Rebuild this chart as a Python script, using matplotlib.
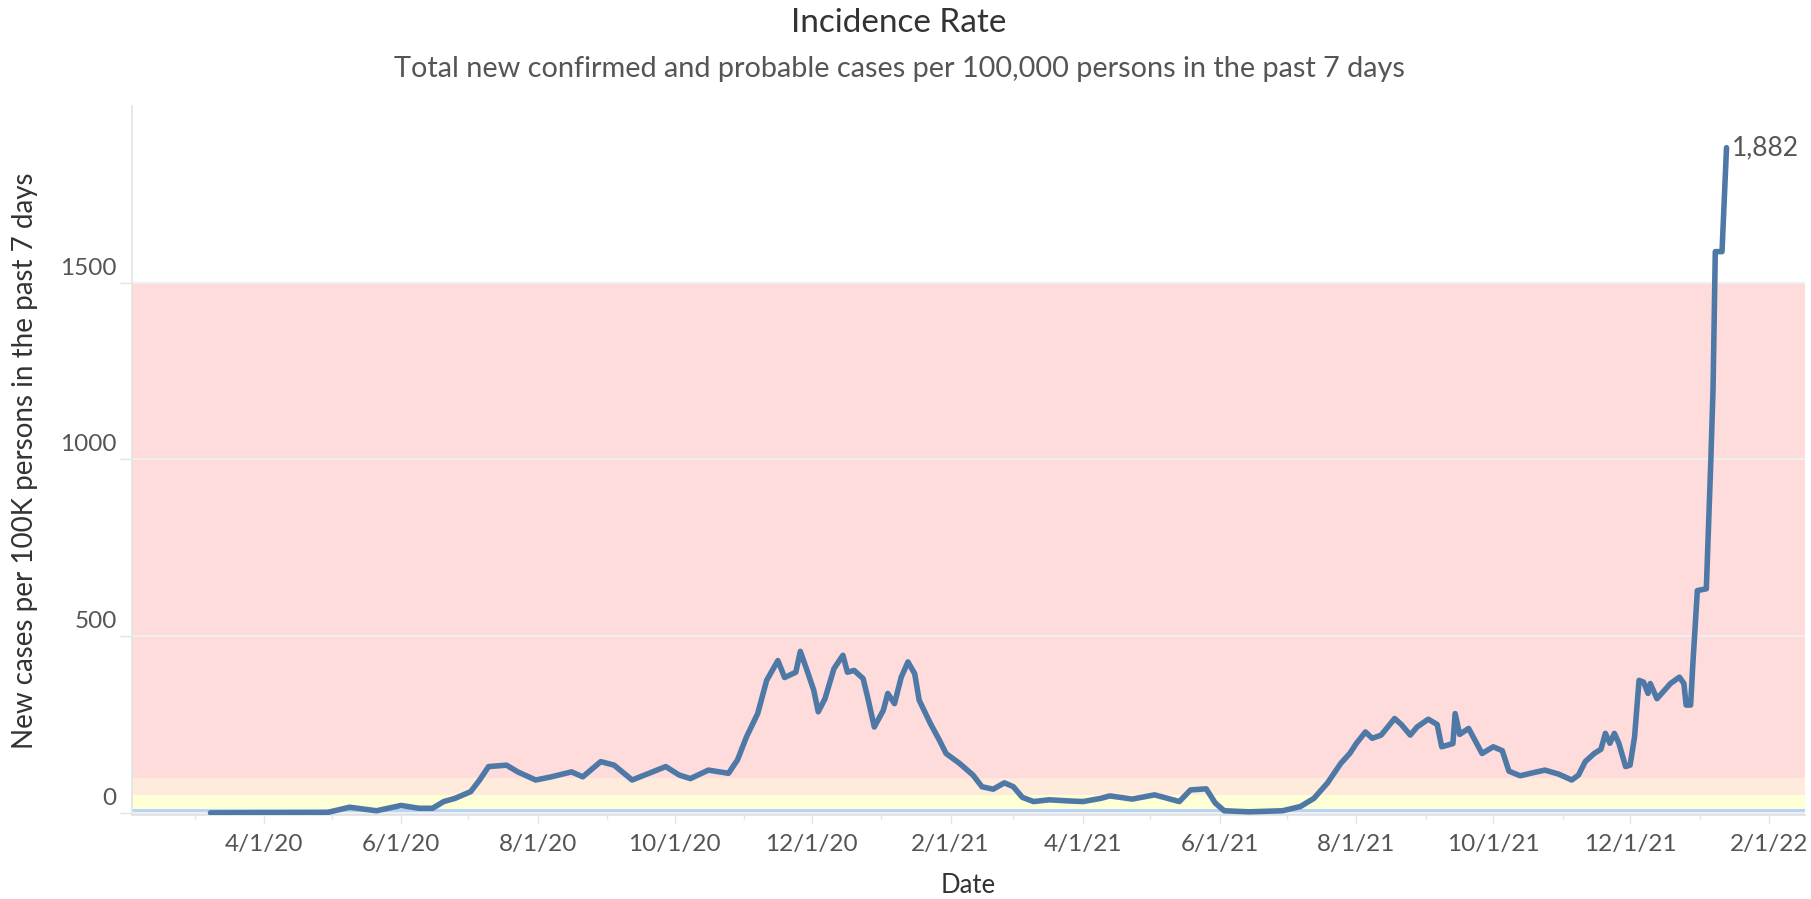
import matplotlib
matplotlib.use('Agg')
import matplotlib.pyplot as plt
import matplotlib.dates as mdates
from matplotlib.transforms import ScaledTranslation
import pandas as pd

# 7-day incidence per 100K
dates = [
    '2020-03-08', '2020-04-29', '2020-05-09', '2020-05-21', '2020-06-01', '2020-06-09',
    '2020-06-15', '2020-06-20', '2020-06-25', '2020-07-02', '2020-07-06', '2020-07-10',
    '2020-07-18', '2020-07-23', '2020-07-31', '2020-08-07', '2020-08-16', '2020-08-21',
    '2020-08-29', '2020-09-04', '2020-09-12', '2020-09-21', '2020-09-27', '2020-10-03',
    '2020-10-08', '2020-10-16', '2020-10-25', '2020-10-29', '2020-11-02', '2020-11-07',
    '2020-11-11', '2020-11-16', '2020-11-19', '2020-11-24', '2020-11-26', '2020-11-29',
    '2020-12-02', '2020-12-04', '2020-12-07', '2020-12-11', '2020-12-15', '2020-12-17',
    '2020-12-20', '2020-12-24', '2020-12-26', '2020-12-29', '2021-01-02', '2021-01-04',
    '2021-01-07', '2021-01-10', '2021-01-13', '2021-01-16', '2021-01-18', '2021-01-23',
    '2021-01-27', '2021-01-30', '2021-02-05', '2021-02-11', '2021-02-15', '2021-02-20',
    '2021-02-25', '2021-03-01', '2021-03-05', '2021-03-10', '2021-03-17', '2021-03-25',
    '2021-04-01', '2021-04-09', '2021-04-13', '2021-04-23', '2021-05-03', '2021-05-14',
    '2021-05-19', '2021-05-26', '2021-05-30', '2021-06-03', '2021-06-14', '2021-06-29',
    '2021-07-07', '2021-07-13', '2021-07-19', '2021-07-25', '2021-07-29', '2021-08-01',
    '2021-08-05', '2021-08-08', '2021-08-12', '2021-08-18', '2021-08-21', '2021-08-25',
    '2021-08-28', '2021-09-02', '2021-09-06', '2021-09-08', '2021-09-13', '2021-09-14',
    '2021-09-16', '2021-09-20', '2021-09-26', '2021-10-01', '2021-10-05', '2021-10-08',
    '2021-10-13', '2021-10-19', '2021-10-24', '2021-10-30', '2021-11-05', '2021-11-08',
    '2021-11-11', '2021-11-15', '2021-11-18', '2021-11-20', '2021-11-22', '2021-11-24',
    '2021-11-26', '2021-11-29', '2021-12-01', '2021-12-03', '2021-12-05', '2021-12-07',
    '2021-12-09', '2021-12-10', '2021-12-13', '2021-12-19', '2021-12-23', '2021-12-25',
    '2021-12-26', '2021-12-28', '2021-12-29', '2021-12-31', '2022-01-04', '2022-01-06',
    '2022-01-07', '2022-01-08', '2022-01-11', '2022-01-13',
]
values = [
    0, 1, 16, 6, 21, 13,
    13, 32, 41, 60, 93, 131,
    135, 116, 93, 102, 116, 102,
    145, 135, 93, 116, 131, 107,
    97, 121, 112, 150, 215, 281,
    375, 431, 383, 398, 457, 403,
    347, 286, 323, 408, 446, 398,
    403, 380, 328, 243, 290, 338,
    309, 384, 427, 394, 319, 253,
    206, 168, 140, 107, 74, 67,
    85, 74, 44, 32, 37, 34,
    32, 41, 48, 39, 51, 32,
    65, 68, 28, 6, 3, 6,
    18, 41, 84, 140, 168, 197,
    229, 211, 220, 267, 250, 220,
    243, 265, 250, 187, 196, 281,
    222, 239, 168, 187, 176, 118,
    105, 114, 121, 110, 93, 107,
    145, 168, 180, 225, 197, 225,
    197, 131, 135, 215, 375, 370,
    338, 366, 323, 366, 384, 366,
    305, 305, 422, 629, 634, 995,
    1200, 1588, 1588, 1882,
]

# risk level bands (lower bound, upper bound, colour)
band_edges = [-6, 10, 50, 100, 1500]
band_colors = ['#B6D3F8', '#FFFFD6', '#FEEBDC', '#FEDCDC']

y_ticks = [0, 500, 1000, 1500]
x_start, x_end = '2020-02-02', '2022-02-17'

plt.rcParams['font.family'] = ['Lato', 'DejaVu Sans']

df = pd.DataFrame({'date': pd.to_datetime(dates), 'value': values})

fig = plt.figure(figsize=(18.11, 8.99), dpi=100)
ax = fig.add_axes([132 / 1811, 84 / 899, 1673 / 1811, 709 / 899])

for lo, hi, c in zip(band_edges[:-1], band_edges[1:], band_colors):
    ax.axhspan(lo, hi, color=c, lw=0, zorder=1)

ax.plot(df['date'], df['value'], color='#4E79A7', lw=4.0, solid_joinstyle='round',
        solid_capstyle='round', zorder=3)

last = df.iloc[-1]
ax.annotate(f"{last['value']:,}", xy=(last['date'], last['value']), xytext=(4, 0),
            textcoords='offset points', ha='left', va='center', fontsize=19, color='#555555')

ax.set_xlim(pd.Timestamp(x_start), pd.Timestamp(x_end))
ax.set_ylim(band_edges[0], 2000)

ax.set_yticks(y_ticks)
ax.yaxis.grid(True, color='#EFEFEF', lw=1.5, zorder=2)
ax.set_axisbelow(False)
for gl in ax.get_ygridlines():
    gl.set_zorder(2)

ax.xaxis.set_major_locator(mdates.MonthLocator(bymonth=[2, 4, 6, 8, 10, 12]))
ax.xaxis.set_minor_locator(mdates.MonthLocator())
ax.xaxis.set_major_formatter(plt.FuncFormatter(
    lambda x, pos: (lambda d: f"{d.month}/{d.day}/{d.strftime('%y')}")(mdates.num2date(x))))

for s in ['top', 'right']:
    ax.spines[s].set_visible(False)
for s in ['left', 'bottom']:
    ax.spines[s].set_color('#E3E3E3')
    ax.spines[s].set_linewidth(1.2)

ax.tick_params(axis='x', which='major', length=6, width=1, color='#E3E3E3', pad=8,
               labelsize=17.5, labelcolor='#555555')
ax.tick_params(axis='x', which='minor', length=3, width=1, color='#E3E3E3')
ax.tick_params(axis='y', length=9, width=1, color='#E3E3E3', pad=2,
               labelsize=17.5, labelcolor='#555555')

# Tableau lifts the zero label so it sits above the axis line
for t in ax.yaxis.get_major_ticks():
    if t.get_loc() == 0:
        t.label1.set_transform(t.label1.get_transform()
                               + ScaledTranslation(0, 12 / 72, fig.dpi_scale_trans))

ax.set_ylabel('New cases per 100K persons in the past 7 days', fontsize=20,
              color='#333333', va='center')
ax.yaxis.set_label_coords(-0.064, 0.5)
ax.set_xlabel('Date', fontsize=18.5, color='#333333', va='center')
ax.xaxis.set_label_coords(0.5, -0.099)

fig.text(0.4965, 1 - 23 / 899, 'Incidence Rate', ha='center', va='center',
         fontsize=24, color='#333333')
fig.text(0.4965, 1 - 69 / 899,
         'Total new confirmed and probable cases per 100,000 persons in the past 7 days',
         ha='center', va='center', fontsize=20.8, color='#555555')

fig.savefig('out.png', dpi=100)
